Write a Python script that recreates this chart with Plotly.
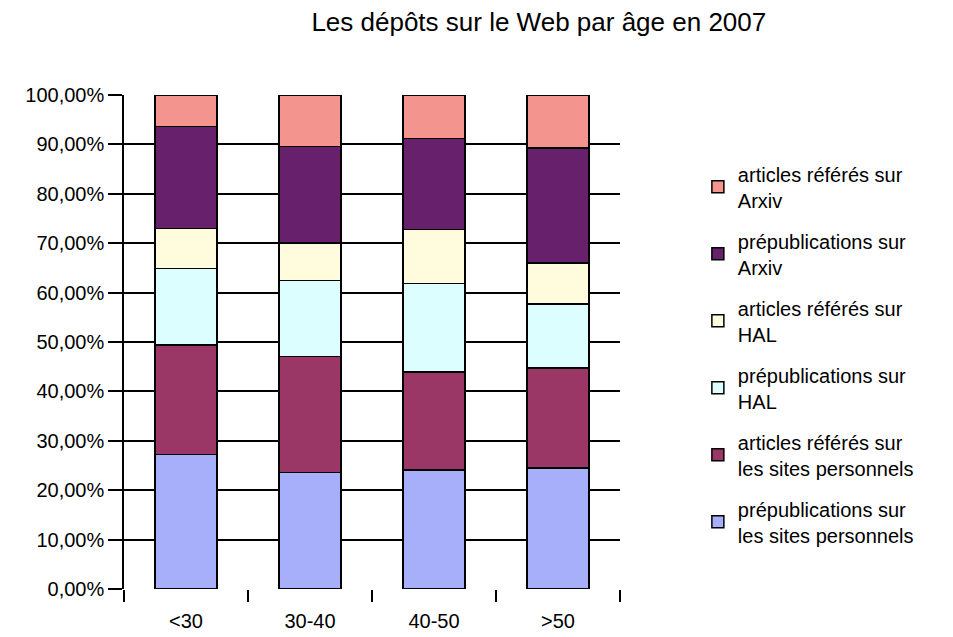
import plotly.graph_objects as go

age_groups = ['<30', '30-40', '40-50', '>50']

# percentages per age group, bottom segment first
prepub_sites = [27.2, 23.6, 24.1, 24.5]
articles_sites = [22.2, 23.5, 19.8, 20.2]
prepub_hal = [15.5, 15.3, 17.9, 13.0]
articles_hal = [8.1, 7.6, 11.0, 8.3]
prepub_arxiv = [20.6, 19.6, 18.4, 23.3]
articles_arxiv = [6.4, 10.4, 8.8, 10.7]

y_ticks = [0, 10, 20, 30, 40, 50, 60, 70, 80, 90, 100]
y_tick_labels = ['0,00%', '10,00%', '20,00%', '30,00%', '40,00%', '50,00%',
                 '60,00%', '70,00%', '80,00%', '90,00%', '100,00%']

series = [
    ('prépublications sur<br>les sites personnels', prepub_sites, '#A7AEFA'),
    ('articles référés sur<br>les sites personnels', articles_sites, '#9A3766'),
    ('prépublications sur<br>HAL', prepub_hal, '#DCFEFF'),
    ('articles référés sur<br>HAL', articles_hal, '#FFFCDD'),
    ('prépublications sur<br>Arxiv', prepub_arxiv, '#67206B'),
    ('articles référés sur<br>Arxiv', articles_arxiv, '#F3948F'),
]

fig = go.Figure()
for i, (name, vals, color) in enumerate(series):
    fig.add_trace(go.Bar(
        x=age_groups,
        y=vals,
        name=name,
        legendgroup=str(i),
        legendrank=len(series) - i,
        marker=dict(color=color, line=dict(color='black', width=1.5)),
    ))

# the page body adds an 8px offset, margins account for it
fig.update_layout(
    barmode='stack',
    bargap=0.5,
    width=953,
    height=637,
    paper_bgcolor='white',
    plot_bgcolor='white',
    font=dict(family='Liberation Sans, Arial, sans-serif', size=20, color='black'),
    margin=dict(l=116, r=341, t=87, b=56),
    title=dict(text='Les dépôts sur le Web par âge en 2007', x=0.557, xanchor='center',
               y=0.978, yanchor='middle', font=dict(size=26)),
    legend=dict(
        x=1.157, y=0.88, xanchor='left', yanchor='top',
        traceorder='grouped', tracegroupgap=12,
        font=dict(size=20),
    ),
    xaxis=dict(
        showgrid=False,
        ticks='outside', tickson='boundaries', ticklen=12, tickwidth=1.5, tickcolor='black',
        ticklabelstandoff=18,
        showline=False,
    ),
    yaxis=dict(
        range=[0, 100],
        tickvals=y_ticks,
        ticktext=y_tick_labels,
        showgrid=True, gridcolor='black', gridwidth=1.5,
        ticks='outside', ticklen=14, tickwidth=1.5, tickcolor='black',
        showline=True, linecolor='black', linewidth=1.5,
        zeroline=False,
    ),
)

fig.write_html('out.html')
